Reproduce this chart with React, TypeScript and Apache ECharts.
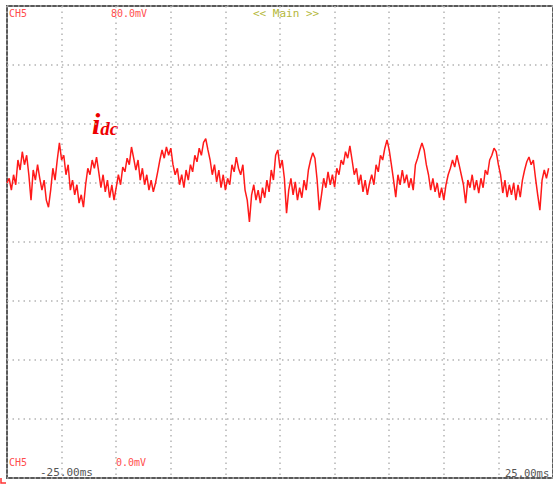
import React, { useEffect, useRef } from "react";
import * as echarts from "echarts";

// Oscilloscope trace, sampled every 0.2 ms from -25 ms; values in 0.1 div units
const sampleStartMs = -25;
const sampleStepMs = 0.2;
const traceValues = [
  10.0, 10.8, 8.8, 11.4, 9.7, 13.9, 12.2, 15.3, 13.1, 14.7,
  11.4, 7.1, 12.2, 10.5, 13.1, 10.8, 8.8, 10.5, 7.1, 5.9,
  8.8, 12.5, 10.5, 13.9, 16.8, 13.9, 14.7, 11.4, 13.1, 8.8,
  10.5, 8.0, 9.7, 6.6, 8.0, 5.9, 9.7, 12.5, 11.4, 13.9,
  12.5, 14.4, 11.9, 9.2, 11.4, 8.5, 10.5, 7.5, 9.7, 7.1,
  9.2, 11.4, 9.7, 12.7, 11.9, 14.2, 13.1, 16.1, 14.2, 12.2,
  13.9, 10.5, 12.5, 9.7, 11.4, 8.8, 10.5, 8.5, 10.0, 11.9,
  13.9, 15.6, 14.2, 16.1, 14.7, 15.9, 13.1, 11.4, 12.5, 9.7,
  11.4, 9.2, 12.2, 10.5, 13.1, 11.9, 14.7, 13.6, 15.9, 14.7,
  16.9, 17.5, 15.6, 13.9, 11.4, 13.1, 10.2, 12.2, 9.2, 11.4,
  8.8, 10.8, 9.7, 13.1, 11.9, 14.4, 12.5, 11.4, 13.1, 8.8,
  7.1, 3.4, 8.0, 9.7, 7.1, 8.8, 6.6, 9.2, 7.5, 10.5,
  8.5, 12.2, 10.5, 14.7, 15.6, 12.5, 13.9, 10.8, 4.9, 8.8,
  10.8, 8.0, 10.2, 7.1, 9.2, 7.5, 10.5, 8.8, 12.2, 13.9,
  15.1, 14.2, 10.5, 5.4, 8.0, 10.8, 9.2, 11.9, 9.7, 11.4,
  9.3, 12.5, 11.4, 13.9, 13.1, 15.3, 14.2, 16.3, 13.9, 11.4,
  12.5, 9.7, 11.4, 8.5, 10.5, 8.0, 10.0, 11.4, 9.7, 13.1,
  11.9, 14.7, 13.9, 15.9, 17.3, 15.6, 13.1, 10.5, 7.6, 11.4,
  9.7, 12.2, 10.0, 11.4, 9.2, 10.8, 8.8, 13.1, 14.2, 15.6,
  16.8, 15.6, 13.1, 11.4, 8.8, 10.8, 8.5, 10.0, 7.5, 9.2,
  7.1, 9.7, 11.4, 12.5, 13.9, 12.7, 14.7, 13.1, 11.4, 9.7,
  6.6, 10.5, 9.2, 11.4, 8.8, 10.5, 8.3, 10.8, 9.2, 12.2,
  11.4, 13.9, 14.7, 15.9, 15.3, 13.1, 11.4, 8.3, 10.5, 7.6,
  9.7, 8.0, 10.0, 7.1, 9.7, 7.6, 10.5, 12.2, 13.6, 14.4,
  13.1, 13.9, 10.8, 8.0, 5.4, 10.5, 12.2, 10.8, 12.5,
];

const xMin = -25;
const xMax = 25;
const yMin = -40;
const yMax = 40;

const topTexts = ["CH5", "80.0mV", "<< Main >>"];
const bottomTexts = ["CH5", "0.0mV", "-25.00ms", "25.00ms"];

export default function App() {
  const ref = useRef<HTMLDivElement>(null);
  useEffect(() => {
    document.body.style.margin = "0";
    if (!ref.current) return;
    const chart = echarts.init(ref.current, null, { renderer: "svg" });
    const data = traceValues.map((v, i) => [sampleStartMs + i * sampleStepMs, v]);
    const mono = "'DejaVu Sans Mono'";
    const dotted = { color: "#b4b4b4", width: 1.5, type: [1.5, 4] as any };
    chart.setOption({
      animation: false,
      backgroundColor: "#ffffff",
      grid: {
        left: 7,
        top: 6,
        width: 550,
        height: 472,
        show: true,
        borderColor: "#5a5a5a",
        borderWidth: 2,
        backgroundColor: "transparent",
      },
      xAxis: {
        type: "value",
        min: xMin,
        max: xMax,
        interval: 5,
        axisLine: { show: false },
        axisTick: { show: false },
        axisLabel: { show: false },
        splitLine: { show: true, lineStyle: dotted },
      },
      yAxis: {
        type: "value",
        min: yMin,
        max: yMax,
        interval: 10,
        axisLine: { show: false },
        axisTick: { show: false },
        axisLabel: { show: false },
        splitLine: { show: true, lineStyle: dotted },
      },
      series: [
        {
          type: "line",
          data,
          symbol: "none",
          lineStyle: { color: "#ff1a1a", width: 1.5 },
          clip: true,
        },
      ],
      graphic: [
        { type: "text", left: 9, top: 8, style: { text: topTexts[0], font: `10px ${mono}`, fill: "#ff4d4d" } },
        { type: "text", left: 111, top: 8, style: { text: topTexts[1], font: `10px ${mono}`, fill: "#ff4d4d" } },
        { type: "text", left: 253, top: 8, style: { text: topTexts[2], font: `11px ${mono}`, fill: "#b5b83a" } },
        { type: "text", left: 9, top: 457, style: { text: bottomTexts[0], font: `10px ${mono}`, fill: "#ff4d4d" } },
        { type: "text", left: 116, top: 457, style: { text: bottomTexts[1], font: `10px ${mono}`, fill: "#ff4d4d" } },
        { type: "text", left: 40, top: 467, style: { text: bottomTexts[2], font: `11px ${mono}`, fill: "#555555" } },
        { type: "text", left: 505, top: 467, style: { text: bottomTexts[3], font: `10.5px ${mono}`, fill: "#555555" } },
        {
          type: "text",
          left: 92,
          top: 108,
          style: {
            text: "{a|i}{b|dc}",
            rich: {
              a: { font: "italic bold 30px 'Liberation Serif'", fill: "#ee0000" },
              b: { font: "italic bold 19px 'Liberation Serif'", fill: "#ee0000", padding: [10, 0, 0, 0] },
            },
          },
        },
        {
          type: "polyline",
          shape: { points: [[1, 478], [1, 483], [6, 483]] },
          style: { stroke: "#ff3333", lineWidth: 1.5, fill: "none" },
        },
      ],
    });
    return () => chart.dispose();
  }, []);
  return <div ref={ref} style={{ width: 553, height: 484 }} />;
}
